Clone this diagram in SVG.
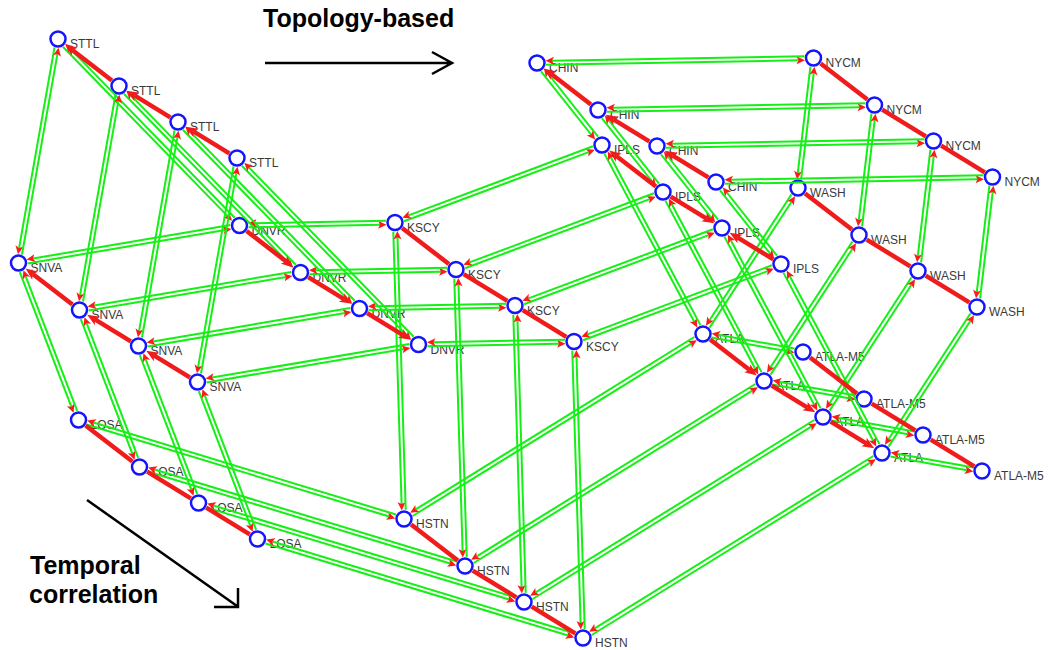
<svg xmlns="http://www.w3.org/2000/svg" width="1050" height="650" viewBox="0 0 1050 650">
<style>
.node circle{fill:#fff;stroke:#1414ff;stroke-width:2.5}
.node text{font-family:"Liberation Sans",Arial,sans-serif;font-size:12px;fill:#3a3a3a}
.link{stroke:#14f014;stroke-width:2;fill:none;marker-end:url(#ga)}
.temp{stroke:#f01c1c;stroke-width:4.5;fill:none}
.fwd{marker-end:url(#ra)}
.bwd{marker-start:url(#ra)}
.title{font-family:"Liberation Sans",Arial,sans-serif;font-weight:bold;font-size:25px;fill:#000}
.axis{stroke:#000;stroke-width:2.5;fill:none}
</style>
<defs>
<marker id="ga" markerUnits="userSpaceOnUse" markerWidth="9" markerHeight="8" refX="2" refY="4" orient="auto" overflow="visible"><path d="M0,0 L8.5,4 L0,8 L2,4 z" fill="#ff1a1a"/></marker>
<marker id="ra" markerUnits="userSpaceOnUse" markerWidth="12" markerHeight="10" refX="3" refY="5" orient="auto-start-reverse" overflow="visible"><path d="M0,0 L12,5 L0,10 L3,5 z" fill="#f01c1c"/></marker>
<line id="s1p" class="temp" x1="7.1" y1="5.5" x2="53.9" y2="41.5"/>
<line id="s1f" class="temp fwd" x1="7.1" y1="5.5" x2="46.7" y2="36"/>
<line id="s1b" class="temp bwd" x1="14.3" y1="11" x2="53.9" y2="41.5"/>
<line id="s2p" class="temp" x1="68.7" y1="51.7" x2="112.3" y2="78.3"/>
<line id="s2f" class="temp fwd" x1="68.7" y1="51.7" x2="104.6" y2="73.6"/>
<line id="s2b" class="temp bwd" x1="76.4" y1="56.4" x2="112.3" y2="78.3"/>
<line id="s3p" class="temp" x1="127.7" y1="87.7" x2="171.3" y2="114.3"/>
<line id="s3f" class="temp fwd" x1="127.7" y1="87.7" x2="163.6" y2="109.6"/>
<line id="s3b" class="temp bwd" x1="135.4" y1="92.4" x2="171.3" y2="114.3"/>
</defs>
<rect width="1050" height="650" fill="#fff"/>

<g id="annotations">
<text class="title" x="263" y="27">Topology-based</text>
<path class="axis" d="M265,63 L451,63 M432,52 L452,63 L432,74"/>
<text class="title" x="30" y="574">Temporal</text>
<text class="title" x="29" y="603">correlation</text>
<path class="axis" d="M87,500 L237,606 M238,588 L238,607 L214,607"/>
</g>

<g id="nodes">
<g id="STTL-1" class="node" transform="translate(58,39)"><circle r="7.5"/><text x="12" y="9">STTL</text></g>
<g id="STTL-2" class="node" transform="translate(119,86)"><circle r="7.5"/><text x="12" y="9">STTL</text></g>
<g id="STTL-3" class="node" transform="translate(178,122)"><circle r="7.5"/><text x="12" y="9">STTL</text></g>
<g id="STTL-4" class="node" transform="translate(237,158)"><circle r="7.5"/><text x="12" y="9">STTL</text></g>
<g id="SNVA-1" class="node" transform="translate(18.5,263)"><circle r="7.5"/><text x="12" y="9">SNVA</text></g>
<g id="SNVA-2" class="node" transform="translate(79.5,310)"><circle r="7.5"/><text x="12" y="9">SNVA</text></g>
<g id="SNVA-3" class="node" transform="translate(138.5,346)"><circle r="7.5"/><text x="12" y="9">SNVA</text></g>
<g id="SNVA-4" class="node" transform="translate(197.5,382)"><circle r="7.5"/><text x="12" y="9">SNVA</text></g>
<g id="LOSA-1" class="node" transform="translate(78.5,420)"><circle r="7.5"/><text x="12" y="9">LOSA</text></g>
<g id="LOSA-2" class="node" transform="translate(139.5,467)"><circle r="7.5"/><text x="12" y="9">LOSA</text></g>
<g id="LOSA-3" class="node" transform="translate(198.5,503)"><circle r="7.5"/><text x="12" y="9">LOSA</text></g>
<g id="LOSA-4" class="node" transform="translate(257.5,539)"><circle r="7.5"/><text x="12" y="9">LOSA</text></g>
<g id="DNVR-1" class="node" transform="translate(239.5,225.5)"><circle r="7.5"/><text x="12" y="9">DNVR</text></g>
<g id="DNVR-2" class="node" transform="translate(300.5,272.5)"><circle r="7.5"/><text x="12" y="9">DNVR</text></g>
<g id="DNVR-3" class="node" transform="translate(359.5,308.5)"><circle r="7.5"/><text x="12" y="9">DNVR</text></g>
<g id="DNVR-4" class="node" transform="translate(418.5,344.5)"><circle r="7.5"/><text x="12" y="9">DNVR</text></g>
<g id="KSCY-1" class="node" transform="translate(395,222.5)"><circle r="7.5"/><text x="12" y="9">KSCY</text></g>
<g id="KSCY-2" class="node" transform="translate(456,269.5)"><circle r="7.5"/><text x="12" y="9">KSCY</text></g>
<g id="KSCY-3" class="node" transform="translate(515,305.5)"><circle r="7.5"/><text x="12" y="9">KSCY</text></g>
<g id="KSCY-4" class="node" transform="translate(574,341.5)"><circle r="7.5"/><text x="12" y="9">KSCY</text></g>
<g id="HSTN-1" class="node" transform="translate(404,519)"><circle r="7.5"/><text x="12" y="9">HSTN</text></g>
<g id="HSTN-2" class="node" transform="translate(465,566)"><circle r="7.5"/><text x="12" y="9">HSTN</text></g>
<g id="HSTN-3" class="node" transform="translate(524,602)"><circle r="7.5"/><text x="12" y="9">HSTN</text></g>
<g id="HSTN-4" class="node" transform="translate(583,638)"><circle r="7.5"/><text x="12" y="9">HSTN</text></g>
<g id="CHIN-1" class="node" transform="translate(537,63)"><circle r="7.5"/><text x="12" y="9">CHIN</text></g>
<g id="CHIN-2" class="node" transform="translate(598,110)"><circle r="7.5"/><text x="12" y="9">CHIN</text></g>
<g id="CHIN-3" class="node" transform="translate(657,146)"><circle r="7.5"/><text x="12" y="9">CHIN</text></g>
<g id="CHIN-4" class="node" transform="translate(716,182)"><circle r="7.5"/><text x="12" y="9">CHIN</text></g>
<g id="IPLS-1" class="node" transform="translate(602,145)"><circle r="7.5"/><text x="12" y="9">IPLS</text></g>
<g id="IPLS-2" class="node" transform="translate(663,192)"><circle r="7.5"/><text x="12" y="9">IPLS</text></g>
<g id="IPLS-3" class="node" transform="translate(722,228)"><circle r="7.5"/><text x="12" y="9">IPLS</text></g>
<g id="IPLS-4" class="node" transform="translate(781,264)"><circle r="7.5"/><text x="12" y="9">IPLS</text></g>
<g id="NYCM-1" class="node" transform="translate(813.5,58)"><circle r="7.5"/><text x="12" y="9">NYCM</text></g>
<g id="NYCM-2" class="node" transform="translate(874.5,105)"><circle r="7.5"/><text x="12" y="9">NYCM</text></g>
<g id="NYCM-3" class="node" transform="translate(933.5,141)"><circle r="7.5"/><text x="12" y="9">NYCM</text></g>
<g id="NYCM-4" class="node" transform="translate(992.5,177)"><circle r="7.5"/><text x="12" y="9">NYCM</text></g>
<g id="WASH-1" class="node" transform="translate(798,188)"><circle r="7.5"/><text x="12" y="9">WASH</text></g>
<g id="WASH-2" class="node" transform="translate(859,235)"><circle r="7.5"/><text x="12" y="9">WASH</text></g>
<g id="WASH-3" class="node" transform="translate(918,271)"><circle r="7.5"/><text x="12" y="9">WASH</text></g>
<g id="WASH-4" class="node" transform="translate(977,307)"><circle r="7.5"/><text x="12" y="9">WASH</text></g>
<g id="ATLA-1" class="node" transform="translate(703,334)"><circle r="7.5"/><text x="12" y="9">ATLA</text></g>
<g id="ATLA-2" class="node" transform="translate(764,381)"><circle r="7.5"/><text x="12" y="9">ATLA</text></g>
<g id="ATLA-3" class="node" transform="translate(823,417)"><circle r="7.5"/><text x="12" y="9">ATLA</text></g>
<g id="ATLA-4" class="node" transform="translate(882,453)"><circle r="7.5"/><text x="12" y="9">ATLA</text></g>
<g id="ATLA-M5-1" class="node" transform="translate(803,352)"><circle r="7.5"/><text x="12" y="9">ATLA-M5</text></g>
<g id="ATLA-M5-2" class="node" transform="translate(864,399)"><circle r="7.5"/><text x="12" y="9">ATLA-M5</text></g>
<g id="ATLA-M5-3" class="node" transform="translate(923,435)"><circle r="7.5"/><text x="12" y="9">ATLA-M5</text></g>
<g id="ATLA-M5-4" class="node" transform="translate(982,471)"><circle r="7.5"/><text x="12" y="9">ATLA-M5</text></g>
</g>

<g id="connectors">
<g id="links-t1">
<line class="link" x1="54.5" y1="47.5" x2="19.1" y2="247.9"/>
<line class="link" x1="22" y1="254.5" x2="57.4" y2="54.1"/>
<line class="link" x1="62.9" y1="46.8" x2="227.6" y2="216.1"/>
<line class="link" x1="234.7" y1="217.7" x2="69.9" y2="48.4"/>
<line class="link" x1="19.8" y1="272.1" x2="71.3" y2="406.7"/>
<line class="link" x1="77.2" y1="410.9" x2="25.7" y2="276.3"/>
<line class="link" x1="27.7" y1="263.5" x2="225" y2="230"/>
<line class="link" x1="230.3" y1="225" x2="33" y2="258.5"/>
<line class="link" x1="86.5" y1="424.5" x2="389.1" y2="516.5"/>
<line class="link" x1="396" y1="514.5" x2="93.4" y2="422.5"/>
<line class="link" x1="248.5" y1="227.3" x2="380" y2="224.8"/>
<line class="link" x1="386" y1="220.7" x2="254.5" y2="223.2"/>
<line class="link" x1="393.3" y1="231.6" x2="401.6" y2="504.1"/>
<line class="link" x1="405.7" y1="509.9" x2="397.5" y2="237.4"/>
<line class="link" x1="404.1" y1="221.2" x2="588.7" y2="152.1"/>
<line class="link" x1="592.9" y1="146.3" x2="408.4" y2="215.4"/>
<line class="link" x1="412.7" y1="516" x2="691.3" y2="343.6"/>
<line class="link" x1="694.3" y1="337" x2="415.7" y2="509.4"/>
<line class="link" x1="598" y1="136.7" x2="547.9" y2="73.5"/>
<line class="link" x1="541" y1="71.3" x2="591.1" y2="134.5"/>
<line class="link" x1="604.5" y1="153.9" x2="694.2" y2="321.7"/>
<line class="link" x1="700.5" y1="325.1" x2="610.8" y2="157.3"/>
<line class="link" x1="546" y1="64.8" x2="798.5" y2="60.3"/>
<line class="link" x1="804.5" y1="56.2" x2="552" y2="60.7"/>
<line class="link" x1="810.4" y1="66.7" x2="797.8" y2="172.9"/>
<line class="link" x1="801.1" y1="179.3" x2="813.7" y2="73.1"/>
<line class="link" x1="791.4" y1="194.5" x2="709.5" y2="320.3"/>
<line class="link" x1="709.6" y1="327.6" x2="791.5" y2="201.7"/>
<line class="link" x1="711.5" y1="337.6" x2="787.9" y2="351.3"/>
<line class="link" x1="794.5" y1="348.4" x2="718.1" y2="334.7"/>
</g>
<use href="#links-t1" transform="translate(61,47)"/>
<use href="#links-t1" transform="translate(120,83)"/>
<use href="#links-t1" transform="translate(179,119)"/>

<g id="temporal-links">
<use href="#s1b" x="58" y="39"/><use href="#s2b" x="58" y="39"/><use href="#s3b" x="58" y="39"/>
<use href="#s1b" x="18.5" y="263"/><use href="#s2b" x="18.5" y="263"/><use href="#s3b" x="18.5" y="263"/>
<use href="#s1p" x="78.5" y="420"/><use href="#s2p" x="78.5" y="420"/><use href="#s3p" x="78.5" y="420"/>
<use href="#s1f" x="239.5" y="225.5"/><use href="#s2f" x="239.5" y="225.5"/><use href="#s3f" x="239.5" y="225.5"/>
<use href="#s1p" x="395" y="222.5"/><use href="#s2p" x="395" y="222.5"/><use href="#s3p" x="395" y="222.5"/>
<use href="#s1p" x="404" y="519"/><use href="#s2p" x="404" y="519"/><use href="#s3p" x="404" y="519"/>
<use href="#s1b" x="537" y="63"/><use href="#s2b" x="537" y="63"/><use href="#s3b" x="537" y="63"/>
<use href="#s1b" x="602" y="145"/><use href="#s2f" x="602" y="145"/><use href="#s3b" x="602" y="145"/>
<use href="#s1p" x="813.5" y="58"/><use href="#s2p" x="813.5" y="58"/><use href="#s3p" x="813.5" y="58"/>
<use href="#s1p" x="798" y="188"/><use href="#s2p" x="798" y="188"/><use href="#s3p" x="798" y="188"/>
<use href="#s1f" x="703" y="334"/><use href="#s2f" x="703" y="334"/><use href="#s3f" x="703" y="334"/>
<use href="#s1p" x="803" y="352"/><use href="#s2p" x="803" y="352"/><use href="#s3p" x="803" y="352"/>
</g>
</g>
</svg>
